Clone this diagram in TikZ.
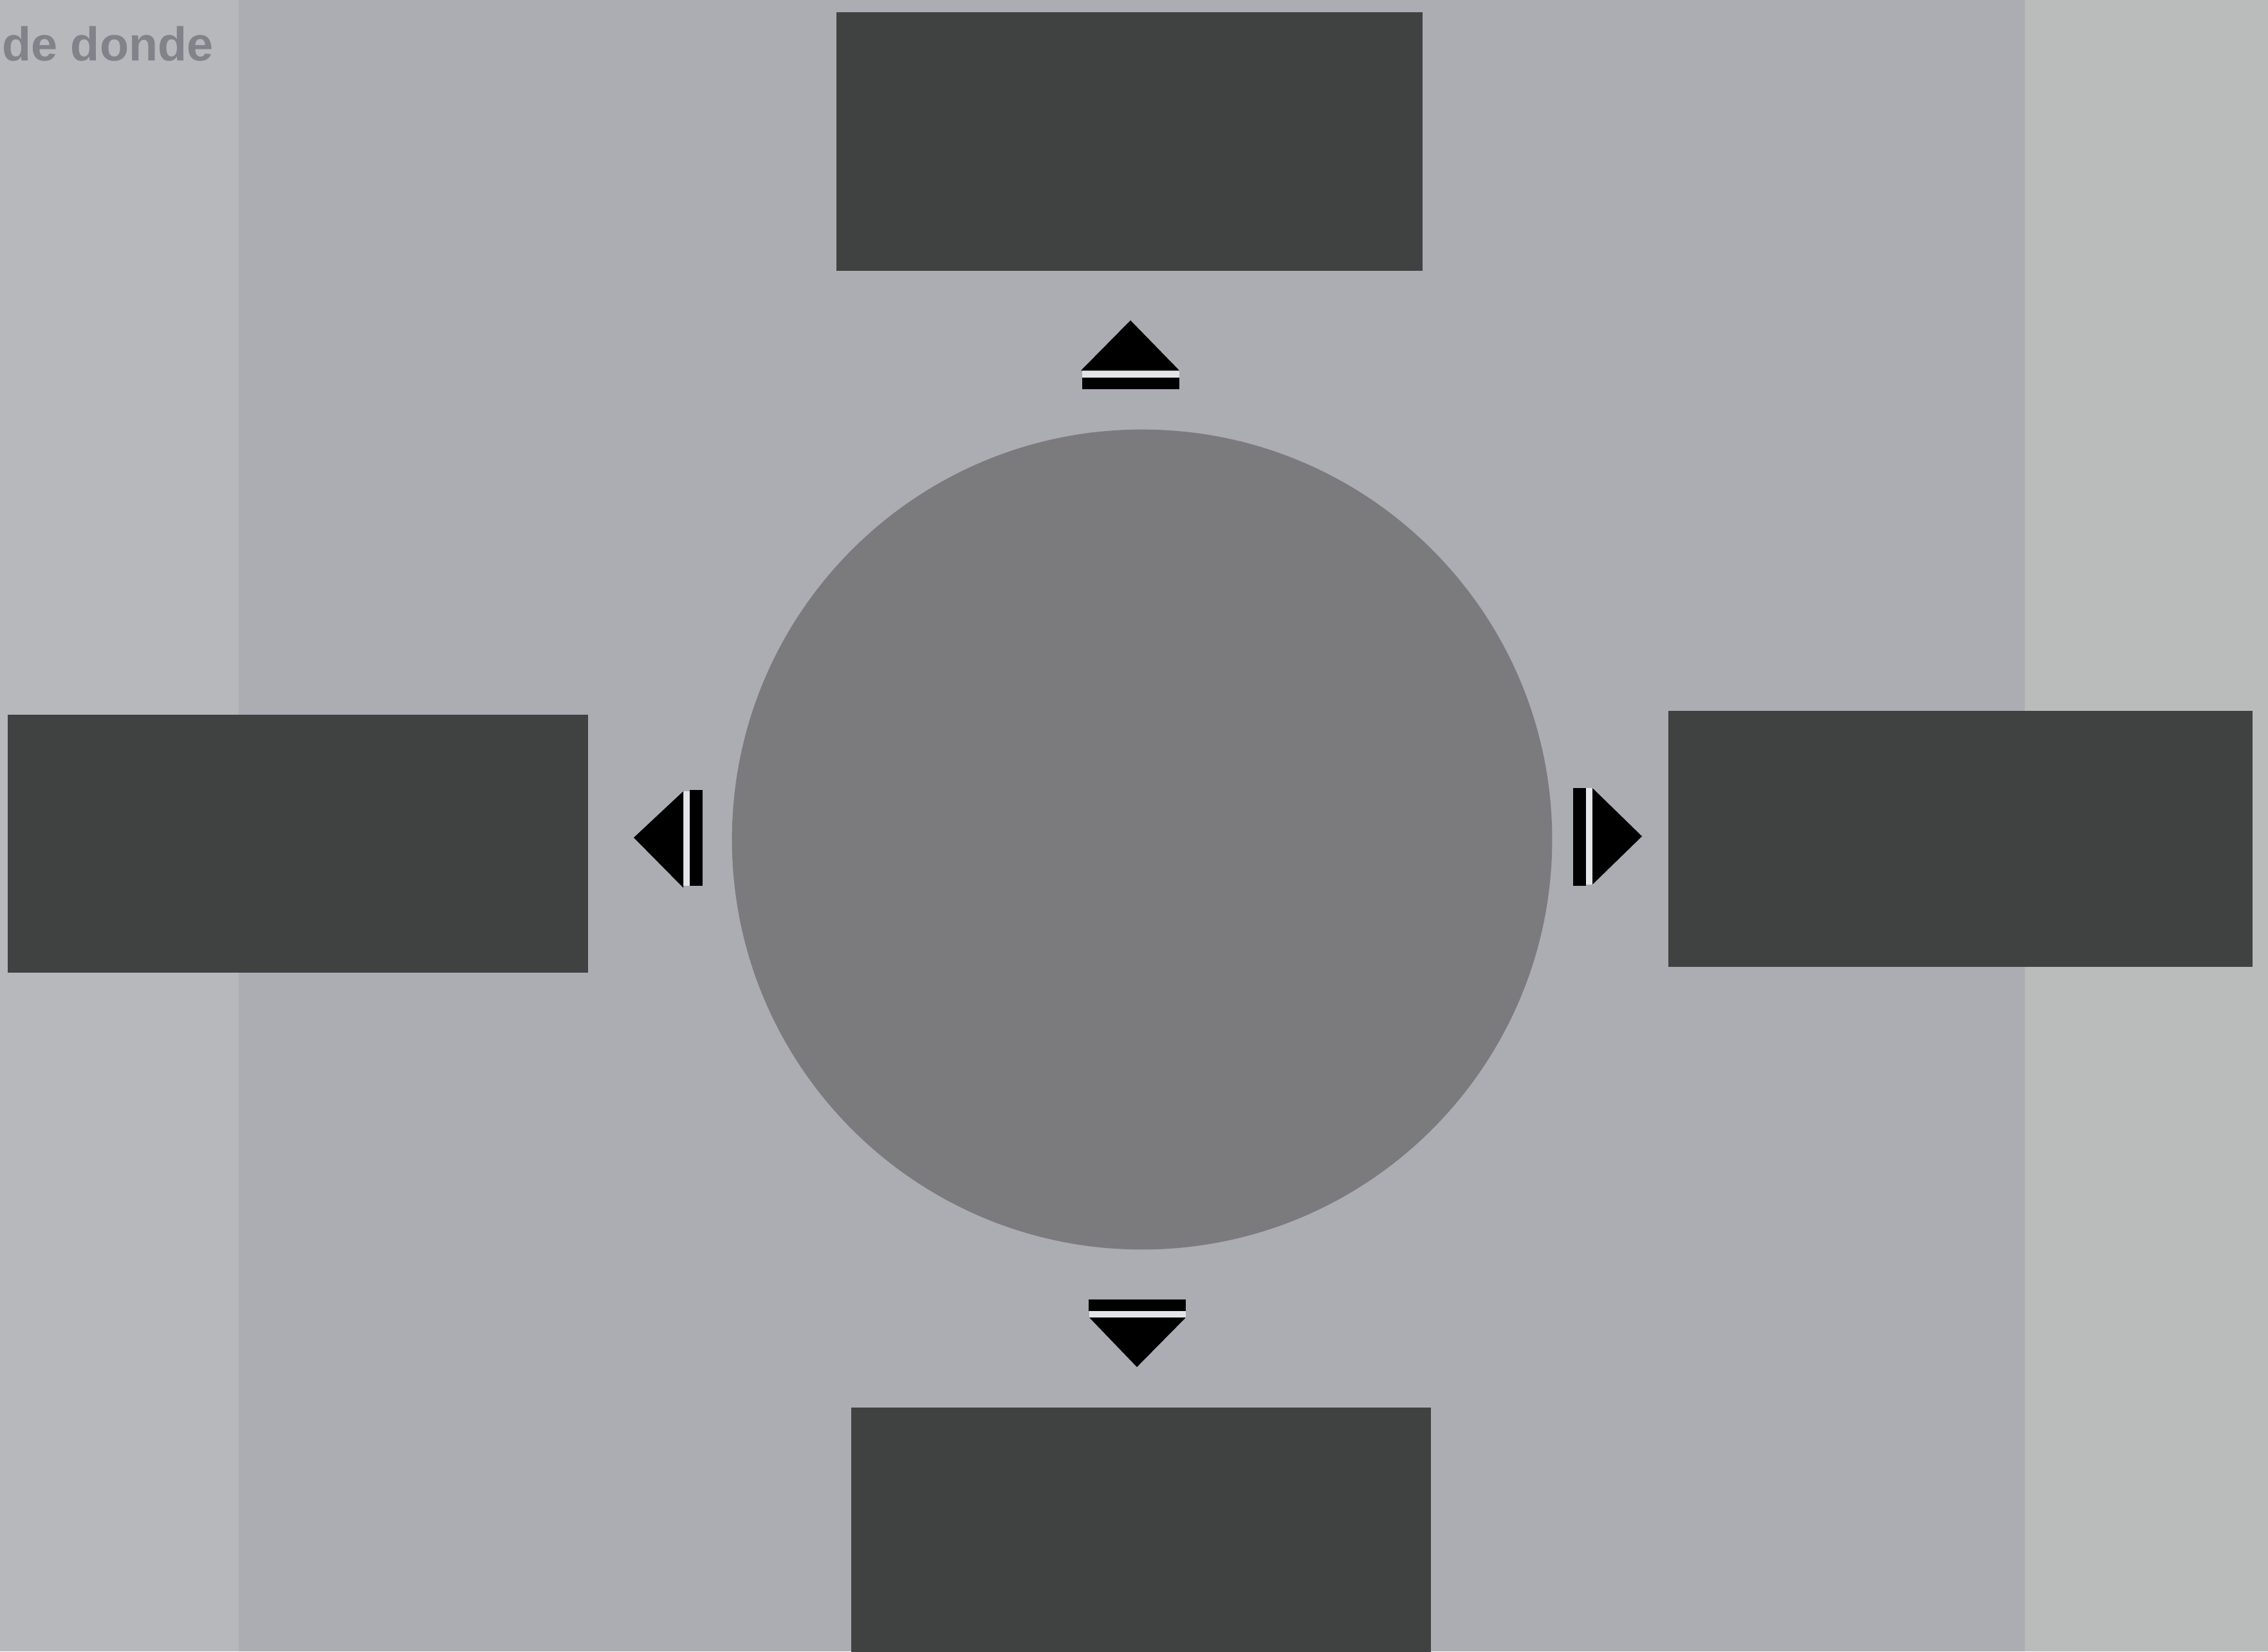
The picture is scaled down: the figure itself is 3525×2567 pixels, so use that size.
\documentclass[tikz,border=0pt]{standalone}
\usepackage{fontspec}
\setmainfont{Liberation Sans}
\begin{document}
\begin{tikzpicture}[x=0.01cm,y=-0.01cm,
  darkbox/.style={rectangle,fill=boxgray,draw=none,inner sep=0pt,anchor=north west},
  hub/.style={circle,fill=hubgray,draw=none,inner sep=0pt,minimum size=12.74cm},
  tip/.style={fill=black,draw=none},
  gap/.style={fill=gapwhite,draw=none}]
\definecolor{paperbg}{HTML}{B6B8BC}
\definecolor{bandbg}{HTML}{ABADB3}
\definecolor{rightbg}{HTML}{BABBBB}
\definecolor{boxgray}{HTML}{404242}
\definecolor{hubgray}{HTML}{7B7B7E}
\definecolor{ghost}{HTML}{82838A}
\definecolor{gapwhite}{HTML}{E4E5E8}
\useasboundingbox (0,0) rectangle (3525,2567);
% paper and background band
\fill[paperbg] (0,0) rectangle (3525,2567);
\fill[bandbg] (371,0) rectangle (3147,2567);
\fill[rightbg] (3147,0) rectangle (3525,2567);
% faint text at top left
\node[anchor=east,text=ghost,font=\bfseries,scale=2.1,inner sep=0pt] (ghosttext) at (333,68) {de donde};
% boxes
\node[darkbox,minimum width=9.11cm,minimum height=4.02cm] (top) at (1299,18) {};
\node[darkbox,minimum width=9.02cm,minimum height=4.01cm] (left) at (11,1110) {};
\node[darkbox,minimum width=9.08cm,minimum height=3.98cm] (right) at (2592,1104) {};
\node[darkbox,minimum width=9.01cm,minimum height=4.00cm] (bottom) at (1322,2187) {};
% central circle
\node[hub] (hub) at (1775,1305) {};
% arrow marks
% up
\fill[gap] (1682,574) rectangle (1833,589);
\fill[tip] (1680,576) -- (1757,498) -- (1833,576) -- cycle;
\fill[tip] (1682,587) rectangle (1833,605);
% down
\fill[gap] (1693,2036) rectangle (1843,2050);
\fill[tip] (1692,2020) rectangle (1843,2038);
\fill[tip] (1693,2048) -- (1767,2125) -- (1843,2048) -- cycle;
% left
\fill[gap] (1060,1230) rectangle (1074,1377);
\fill[tip] (1062,1230) -- (985,1302) -- (1062,1380) -- cycle;
\fill[tip] (1072,1228) rectangle (1092,1377);
% right
\fill[gap] (2463,1225) rectangle (2477,1375);
\fill[tip] (2445,1225) rectangle (2465,1377);
\fill[tip] (2475,1225) -- (2552,1300) -- (2475,1375) -- cycle;
\end{tikzpicture}
\end{document}
